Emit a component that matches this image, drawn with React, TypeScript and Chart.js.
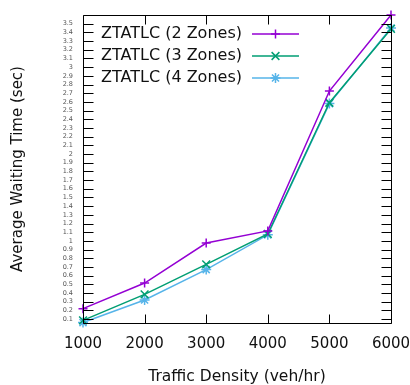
import React, { useEffect, useRef } from 'react';
import { Chart, registerables } from 'chart.js';

Chart.register(...registerables);

const densities = [1000, 2000, 3000, 4000, 5000, 6000];
const zones2 = [0.22, 0.515, 0.975, 1.115, 2.725, 3.6];
const zones3 = [0.085, 0.385, 0.73, 1.08, 2.59, 3.44];
const zones4 = [0.06, 0.32, 0.67, 1.07, 2.58, 3.45];

const seriesLabels = ['ZTATLC (2 Zones)', 'ZTATLC (3 Zones)', 'ZTATLC (4 Zones)'];
const seriesColors = ['#9400d3', '#009e73', '#56b4e9'];
const seriesMarkers = ['cross', 'crossRot', 'star'];
const seriesMarkerSizes = [4.5, 5.5, 5];

const xTickValues = [1000, 2000, 3000, 4000, 5000, 6000];
const yTickValues = [
  0.1, 0.2, 0.3, 0.4, 0.5, 0.6, 0.7, 0.8, 0.9, 1.0,
  1.1, 1.2, 1.3, 1.4, 1.5, 1.6, 1.7, 1.8, 1.9, 2.0,
  2.1, 2.2, 2.3, 2.4, 2.5, 2.6, 2.7, 2.8, 2.9, 3.0,
  3.1, 3.2, 3.3, 3.4, 3.5,
];
const yMin = 0.055;
const yMax = 3.6;

const FONT = "'DejaVu Sans', sans-serif";

function drawMarker(ctx: CanvasRenderingContext2D, style: string, x: number, y: number, r: number) {
  ctx.beginPath();
  if (style === 'cross' || style === 'star') {
    ctx.moveTo(x - r, y);
    ctx.lineTo(x + r, y);
    ctx.moveTo(x, y - r);
    ctx.lineTo(x, y + r);
  }
  if (style === 'crossRot' || style === 'star') {
    const d = r * Math.SQRT1_2;
    ctx.moveTo(x - d, y - d);
    ctx.lineTo(x + d, y + d);
    ctx.moveTo(x - d, y + d);
    ctx.lineTo(x + d, y - d);
  }
  ctx.stroke();
}

const framePlugin = {
  id: 'frame',
  afterDatasetsDraw(chart: any) {
    const { ctx, chartArea: a, scales } = chart;
    const L = Math.floor(a.left) + 0.5;
    const R = Math.floor(a.right) + 0.5;
    const T = Math.floor(a.top) + 0.5;
    const B = Math.floor(a.bottom) + 0.5;
    ctx.save();
    ctx.strokeStyle = '#000';
    ctx.lineWidth = 1;
    ctx.beginPath();
    ctx.rect(L, T, R - L, B - T);
    ctx.stroke();
    ctx.beginPath();
    for (const v of yTickValues) {
      const py = Math.round(scales.y.getPixelForValue(v)) + 0.5;
      ctx.moveTo(L, py);
      ctx.lineTo(L + 10, py);
      ctx.moveTo(R, py);
      ctx.lineTo(R - 10, py);
    }
    for (const v of xTickValues) {
      const px = Math.round(scales.x.getPixelForValue(v)) + 0.5;
      ctx.moveTo(px, B);
      ctx.lineTo(px, B - 9);
      ctx.moveTo(px, T);
      ctx.lineTo(px, T + 9);
    }
    ctx.stroke();
    ctx.restore();
  },
};

const legendPlugin = {
  id: 'gnuLegend',
  afterDraw(chart: any) {
    const { ctx } = chart;
    ctx.save();
    for (let i = 0; i < seriesLabels.length; i++) {
      const y = 34 + 22 * i;
      ctx.fillStyle = '#111';
      ctx.font = `16px ${FONT}`;
      ctx.textBaseline = 'middle';
      ctx.textAlign = 'left';
      ctx.fillText(seriesLabels[i], 101, y);
      ctx.strokeStyle = seriesColors[i];
      ctx.lineWidth = 1.5;
      ctx.beginPath();
      ctx.moveTo(252, y);
      ctx.lineTo(299, y);
      ctx.stroke();
      drawMarker(ctx, seriesMarkers[i], 275.5, y, seriesMarkerSizes[i]);
    }
    ctx.restore();
  },
};

export default function App() {
  const canvasRef = useRef<HTMLCanvasElement | null>(null);

  useEffect(() => {
    const canvas = canvasRef.current;
    if (!canvas) return;
    const seriesData = [zones2, zones3, zones4];
    const chart = new Chart(canvas, {
      type: 'line',
      data: {
        datasets: seriesData.map((vals, i) => ({
          label: seriesLabels[i],
          data: densities.map((x, j) => ({ x, y: vals[j] })),
          borderColor: seriesColors[i],
          backgroundColor: seriesColors[i],
          borderWidth: 1.5,
          pointStyle: seriesMarkers[i] as any,
          pointRadius: seriesMarkerSizes[i],
          pointBorderWidth: 1.5,
          pointBorderColor: seriesColors[i],
          tension: 0,
          fill: false,
          clip: false as any,
        })),
      },
      options: {
        responsive: false,
        animation: false,
        layout: { padding: { left: 0, right: 19, top: 15, bottom: 0 } },
        plugins: {
          legend: { display: false },
          tooltip: { enabled: false },
        },
        scales: {
          x: {
            type: 'linear',
            min: 1000,
            max: 6000,
            afterBuildTicks: (s: any) => {
              s.ticks = xTickValues.map((v) => ({ value: v }));
            },
            afterFit: (s: any) => {
              s.height = 62;
              s.paddingLeft = 0;
              s.paddingRight = 0;
            },
            grid: { display: false, drawTicks: false },
            border: { display: false },
            ticks: {
              autoSkip: false,
              maxRotation: 0,
              padding: 12,
              color: '#111',
              font: { family: FONT, size: 15 },
              callback: (v: any) => String(v),
            },
            title: {
              display: true,
              text: 'Traffic Density (veh/hr)',
              color: '#111',
              font: { family: FONT, size: 15.5, lineHeight: 1 },
              padding: 0,
            },
          },
          y: {
            min: yMin,
            max: yMax,
            afterBuildTicks: (s: any) => {
              s.ticks = yTickValues.map((v) => ({ value: v }));
            },
            afterFit: (s: any) => {
              s.width = 83;
            },
            grid: { display: false, drawTicks: false },
            border: { display: false },
            ticks: {
              autoSkip: false,
              padding: 10,
              color: '#555',
              font: { family: FONT, size: 6.5 },
              callback: (v: any) => String(Number(Number(v).toFixed(1))),
            },
            title: {
              display: true,
              text: 'Average Waiting Time (sec)',
              color: '#111',
              font: { family: FONT, size: 15, lineHeight: 1 },
              padding: { top: 10.5, bottom: 0 },
            },
          },
        },
      },
      plugins: [framePlugin, legendPlugin],
    });
    return () => chart.destroy();
  }, []);

  return (
    <canvas
      ref={canvasRef}
      width={410}
      height={385}
      style={{ position: 'fixed', left: 0, top: 0, width: 410, height: 385 }}
    />
  );
}
